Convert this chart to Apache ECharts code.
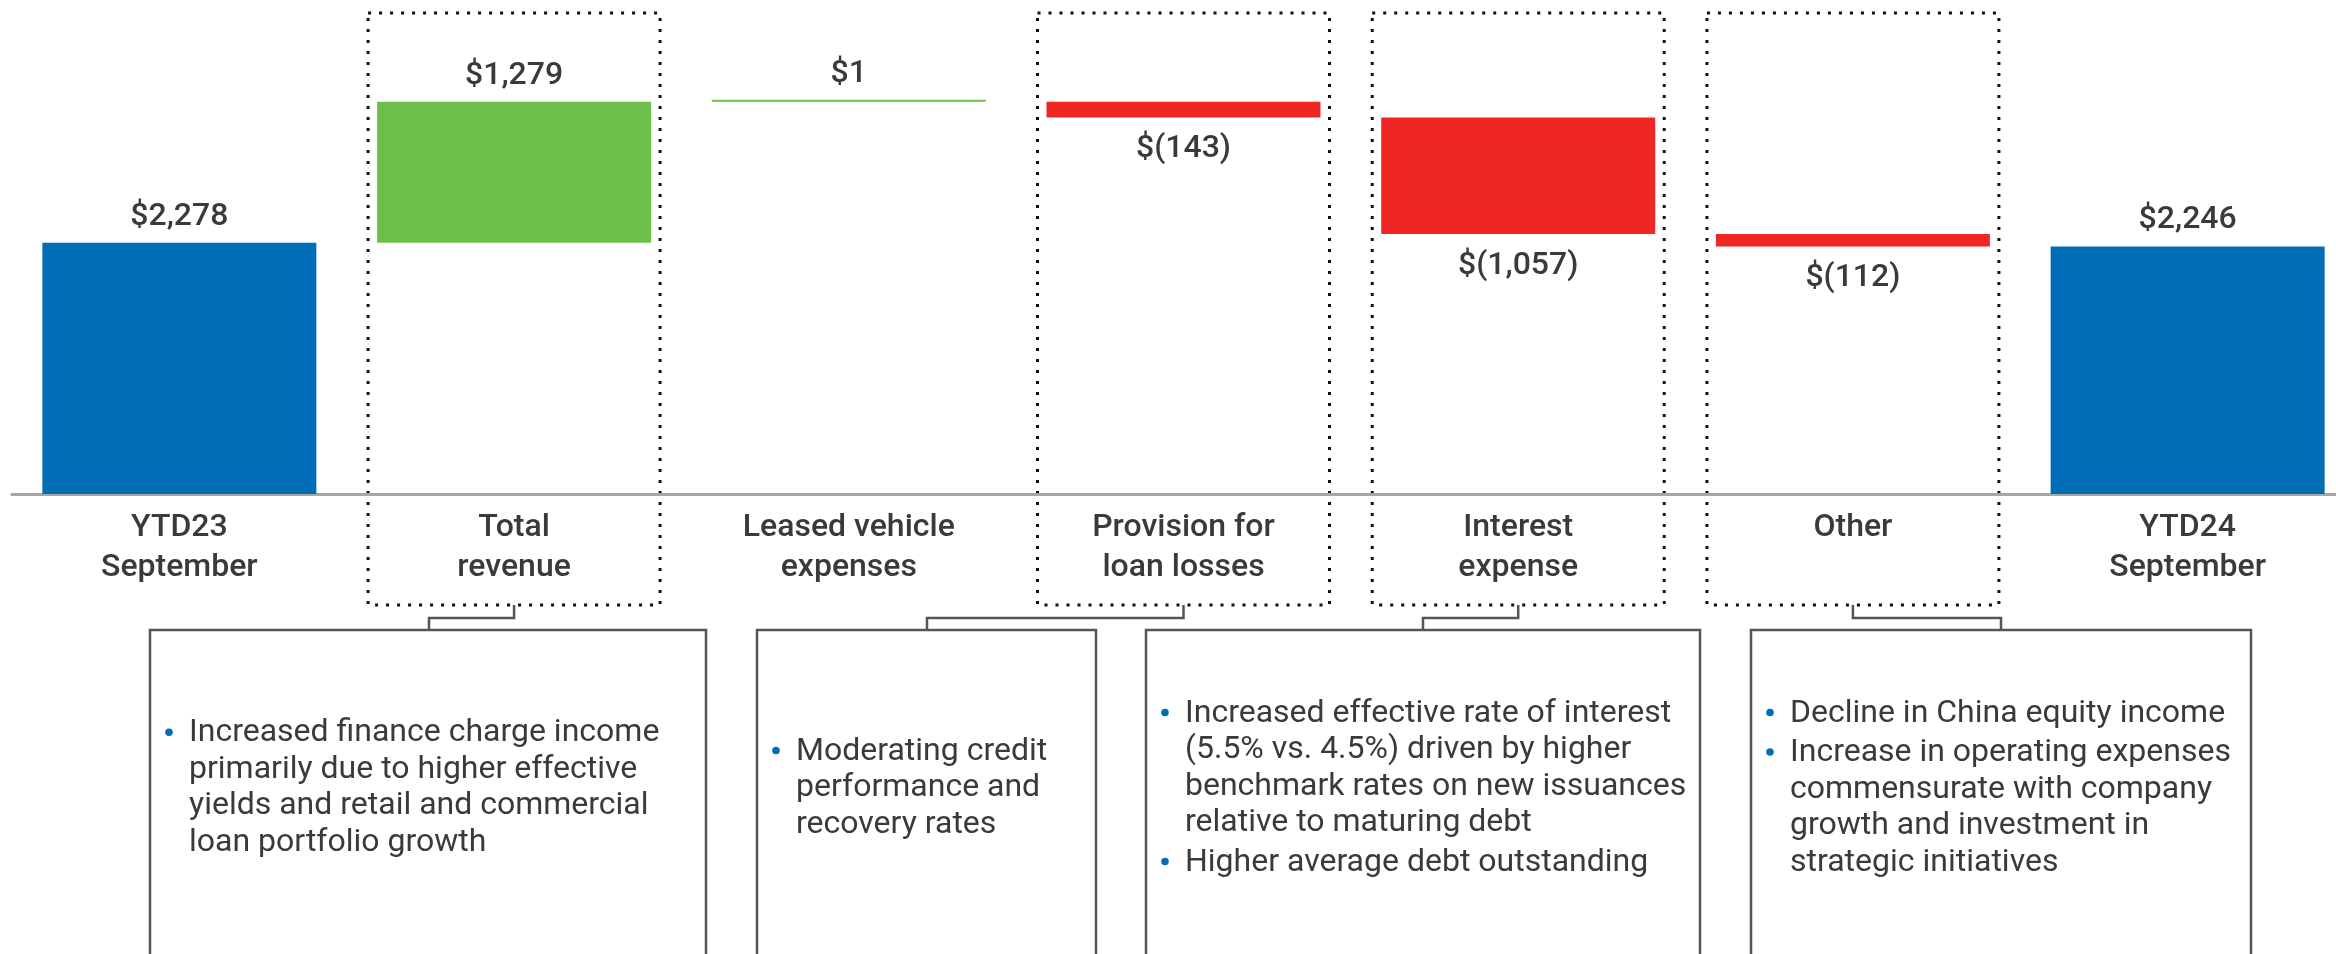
<!DOCTYPE html>
<html>
<head>
<meta charset="utf-8">
<style>
  html, body { margin: 0; padding: 0; background: #fff; overflow: hidden; }
  #chart { width: 2360px; height: 954px; }
</style>
<script src="https://cdn.jsdelivr.net/npm/echarts@6/dist/echarts.min.js"></script>
</head>
<body>
<div id="chart"></div>
<script>
// waterfall data, $ millions
const categories = [
  'YTD23\nSeptember',
  'Total\nrevenue',
  'Leased vehicle\nexpenses',
  'Provision for\nloan losses',
  'Interest\nexpense',
  'Other',
  'YTD24\nSeptember',
];
const changes = [2278, 1279, 1, -143, -1057, -112, 2246];
const isTotal = [true, false, false, false, false, false, true];

// categories that get a dotted frame + a note box below
const framedIdx = [1, 3, 4, 5];
const noteBullets = [
  [['Increased finance charge income', 'primarily due to higher effective', 'yields and retail and commercial', 'loan portfolio growth']],
  [['Moderating credit', 'performance and', 'recovery rates']],
  [['Increased effective rate of interest', '(5.5% vs. 4.5%) driven by higher', 'benchmark rates on new issuances', 'relative to maturing debt'],
   ['Higher average debt outstanding']],
  [['Decline in China equity income'],
   ['Increase in operating expenses', 'commensurate with company', 'growth and investment in', 'strategic initiatives']],
];

// layout of the note boxes (left, right, connector x)
const noteLayout = [
  { left: 150, right: 706, joint: 429 },
  { left: 757, right: 1096, joint: 927 },
  { left: 1146, right: 1700, joint: 1423 },
  { left: 1751, right: 2251, joint: 2001 },
];

const BLUE = '#006eb7';
const GREEN = '#6cc04a';
const RED = '#ee2724';
const TEXT = '#3c3a38';
const FONT = 'Roboto, "Open Sans", sans-serif';

// base (invisible) + visible part of each step
const base = [];
const height = [];
let running = 0;
changes.forEach((v, i) => {
  if (isTotal[i]) {
    base.push(0);
    height.push(v);
    running = v;
  } else if (v >= 0) {
    base.push(running);
    height.push(v);
    running += v;
  } else {
    running += v;
    base.push(running);
    height.push(-v);
  }
});

const fmt = (v) =>
  v < 0 ? '$(' + Math.abs(v).toLocaleString('en-US') + ')' : '$' + v.toLocaleString('en-US');

const chart = echarts.init(document.getElementById('chart'));

chart.setOption({
  animation: false,
  backgroundColor: '#fff',
  grid: { left: 12, width: 2343, top: 53, bottom: 460 },
  xAxis: {
    type: 'category',
    data: categories,
    axisLine: { lineStyle: { color: '#a6a6a6', width: 3 } },
    axisTick: { show: false },
    axisLabel: {
      interval: 0,
      margin: 14,
      fontSize: 32,
      lineHeight: 40,
      fontFamily: FONT,
      fontWeight: 500,
      color: TEXT,
    },
  },
  yAxis: { type: 'value', min: 0, max: 4000, show: false },
  series: [
    {
      type: 'bar',
      stack: 'w',
      barWidth: 274,
      silent: true,
      itemStyle: { color: 'transparent' },
      data: base,
    },
    {
      type: 'bar',
      stack: 'w',
      barWidth: 274,
      barMinHeight: 2,
      label: {
        show: true,
        fontSize: 32,
        fontFamily: FONT,
        fontWeight: 500,
        color: TEXT,
        formatter: (p) => fmt(changes[p.dataIndex]),
      },
      data: height.map((h, i) => ({
        value: h,
        itemStyle: { color: isTotal[i] ? BLUE : changes[i] >= 0 ? GREEN : RED },
        label: changes[i] < 0 ? { position: 'bottom', distance: 16 } : { position: 'top', distance: 10 },
      })),
    },
  ],
});

// dotted frames, connectors and note boxes
const graphics = [];
const frameTop = 13;
const frameBottom = 605;
const elbowY = 618;
const noteTop = 630;
const lineH = 36.5;
const bulletGap = 3;
const blockMid = 788;

framedIdx.forEach((ci, k) => {
  const cx = chart.convertToPixel({ xAxisIndex: 0 }, ci);
  const lay = noteLayout[k];

  graphics.push({
    type: 'rect',
    shape: { x: cx - 146, y: frameTop, width: 292, height: frameBottom - frameTop },
    style: { fill: 'none', stroke: '#111', lineWidth: 3, lineDash: [3, 8] },
    silent: true,
  });
  graphics.push({
    type: 'polyline',
    shape: { points: [[cx, frameBottom], [cx, elbowY], [lay.joint, elbowY], [lay.joint, noteTop]] },
    style: { fill: 'none', stroke: '#555', lineWidth: 2.5 },
    silent: true,
  });
  graphics.push({
    type: 'rect',
    shape: { x: lay.left, y: noteTop, width: lay.right - lay.left, height: 400 },
    style: { fill: 'none', stroke: '#555', lineWidth: 2.5 },
    silent: true,
  });

  const bullets = noteBullets[k];
  const nLines = bullets.reduce((s, b) => s + b.length, 0);
  const total = nLines * lineH + (bullets.length - 1) * bulletGap;
  let y = blockMid - total / 2 + lineH / 2;
  bullets.forEach((lines) => {
    graphics.push({
      type: 'circle',
      shape: { cx: lay.left + 19, cy: y - 1, r: 3.8 },
      style: { fill: BLUE },
      silent: true,
    });
    lines.forEach((ln) => {
      graphics.push({
        type: 'text',
        style: {
          text: ln,
          x: lay.left + 39,
          y: y,
          verticalAlign: 'middle',
          fontSize: 32,
          fontFamily: FONT,
          fill: TEXT,
        },
        silent: true,
      });
      y += lineH;
    });
    y += bulletGap;
  });
});

chart.setOption({ graphic: graphics });
window.addEventListener('resize', () => chart.resize());
</script>
</body>
</html>
